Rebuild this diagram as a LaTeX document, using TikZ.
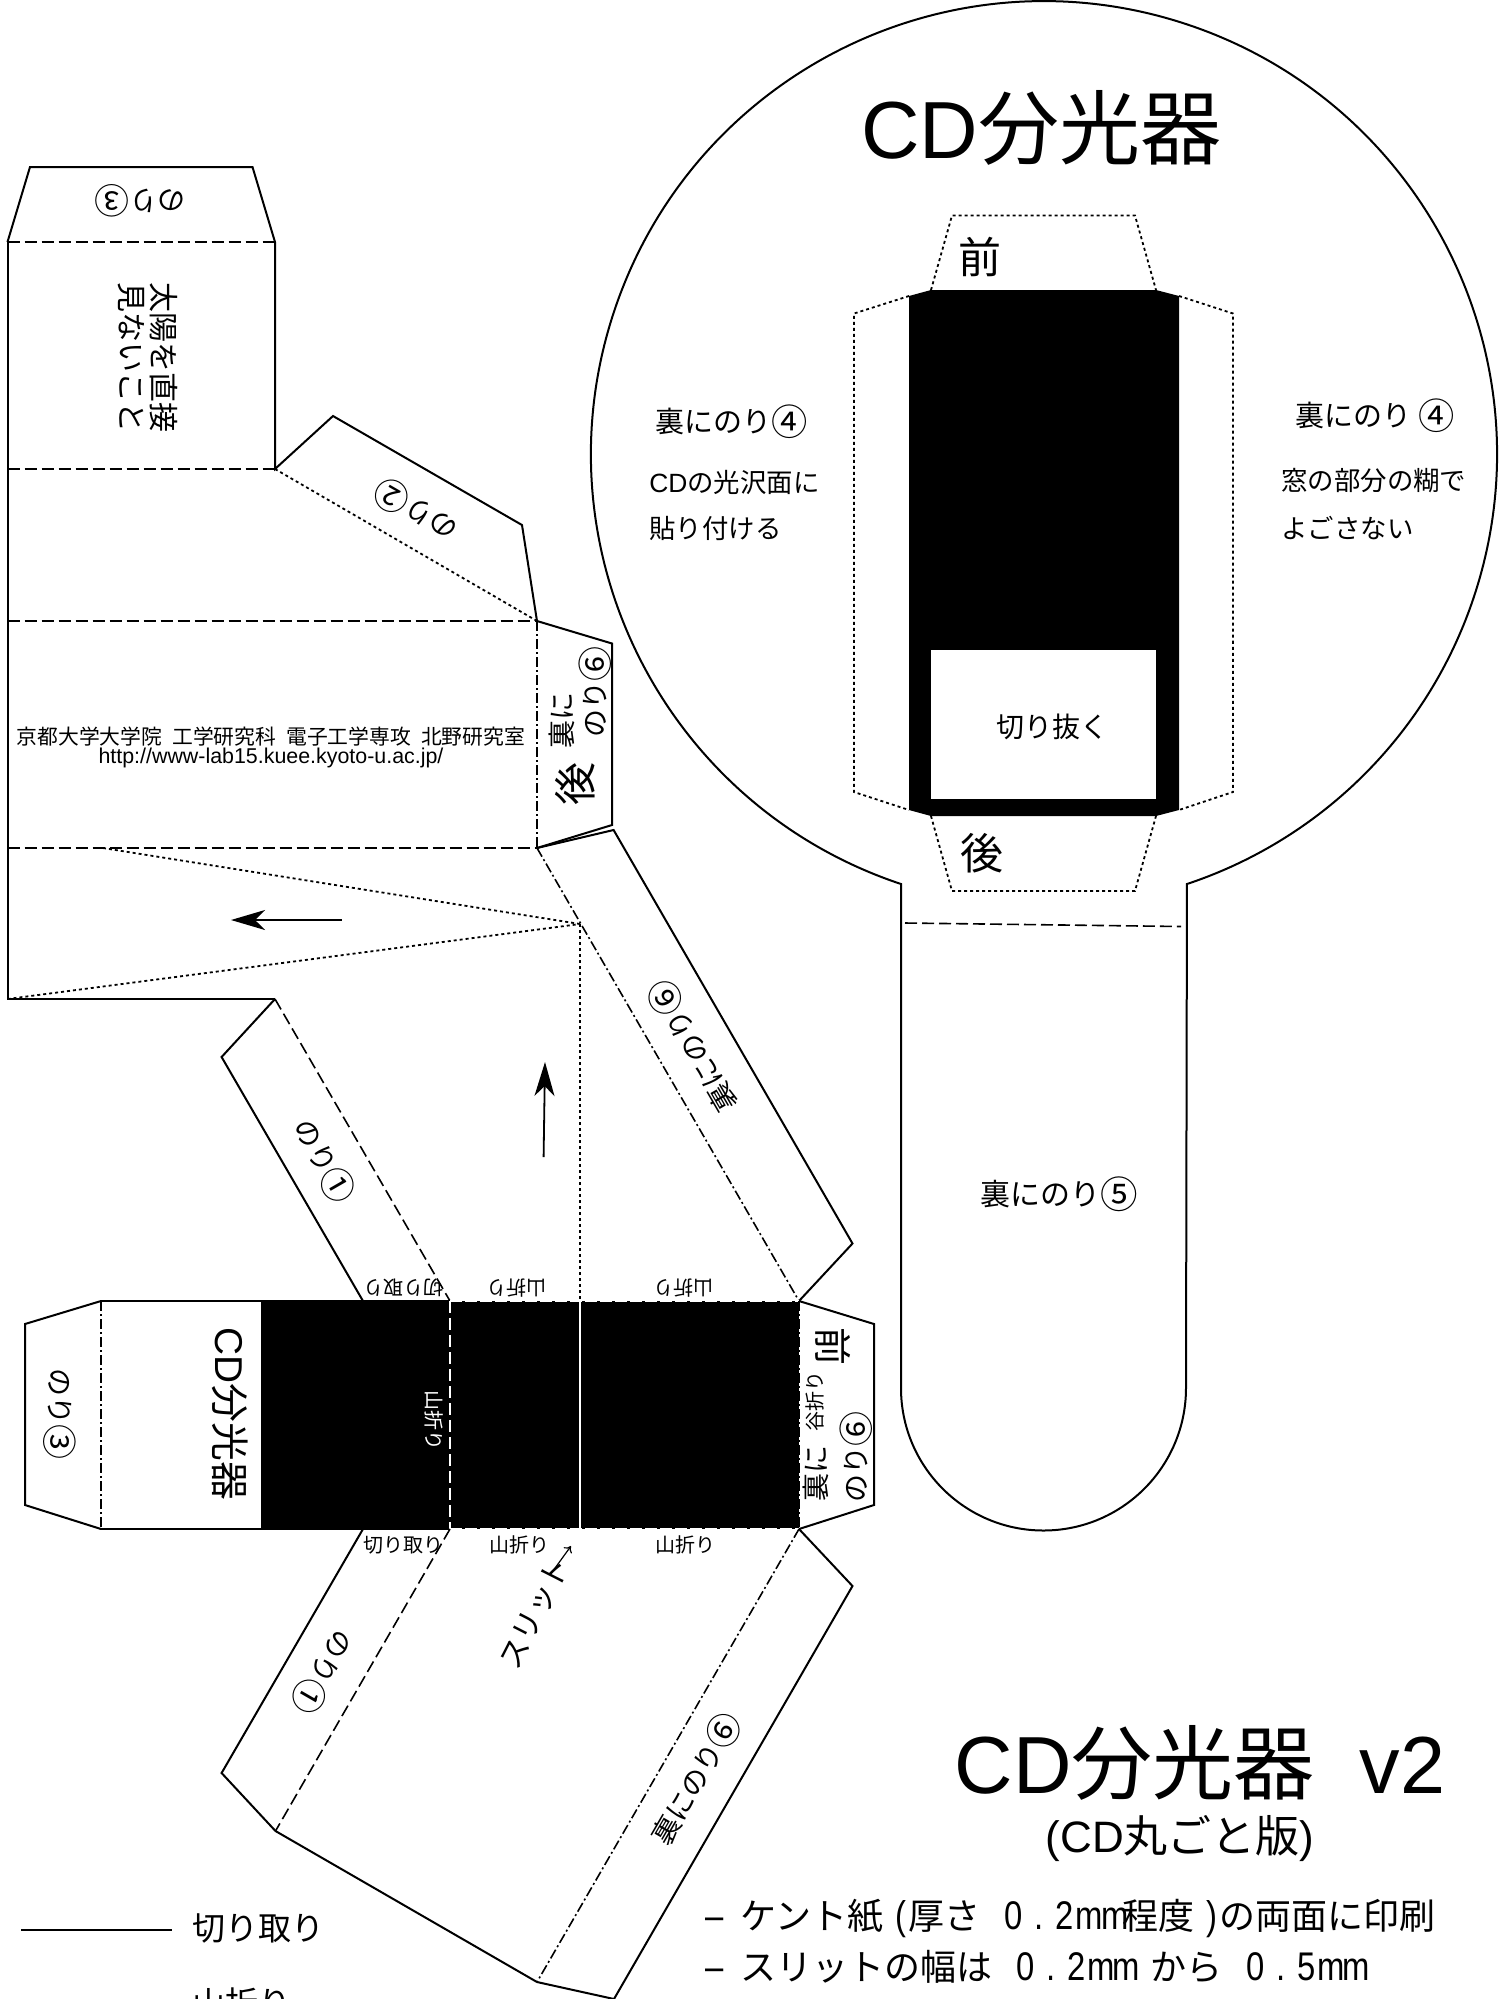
\documentclass[tikz,border=0pt]{standalone}
\usepackage{fontspec}
\usepackage{graphicx}
\usetikzlibrary{arrows.meta}
\setmainfont{Noto Sans CJK JP}
\newfontfamily\lat{Liberation Sans}
\newfontfamily\narrowlat[FakeStretch=0.82]{Liberation Sans}
\newcommand{\fs}[1]{\fontsize{#1}{#1}\selectfont}
\newcommand{\ci}[1]{\raisebox{-0.1em}{\scalebox{1.25}{#1}}}
\newcommand{\hw}[1]{\makebox[12.6pt]{\narrowlat\fs{20} #1}}
\tikzset{
    cutline/.style={draw, line width=1pt, line join=miter},
    ridge/.style={draw, line width=1.1pt, dash pattern=on 6pt off 2.5pt},
    thinridge/.style={draw, line width=0.8pt, dash pattern=on 6pt off 2.5pt},
    valley/.style={draw, line width=0.8pt, dash pattern=on 5pt off 1.5pt on 1pt off 1.5pt},
    hidden/.style={draw, line width=0.9pt, dash pattern=on 1.5pt off 1.5pt},
    lbl/.style={inner sep=0pt, font=\fs{14}},
    tiny/.style={inner sep=0pt, font=\fs{10}},
    big/.style={inner sep=0pt, font=\fs{21.5}}
}
\begin{document}
\begin{tikzpicture}[x=0.5pt, y=-0.5pt]
    \useasboundingbox (0,0) rectangle (1503,1999);
    % corners of the net
    \coordinate (a1) at (7.5,242);
    \coordinate (a2) at (275,242);
    \coordinate (b1) at (7.5,469);
    \coordinate (b2) at (275,469);
    \coordinate (c1) at (7.5,621);
    \coordinate (c2) at (537,621);
    \coordinate (d1) at (7.5,848);
    \coordinate (d2) at (537,848);
    \coordinate (d3) at (103,848);
    \coordinate (e1) at (7.5,999);
    \coordinate (e2) at (275,999);
    \coordinate (apex) at (580,924);
    \coordinate (f1) at (101,1301);
    \coordinate (f2) at (363,1301);
    \coordinate (f3) at (450,1301);
    \coordinate (f4) at (580,1301);
    \coordinate (f5) at (799,1301);
    \coordinate (g1) at (101,1529);
    \coordinate (g2) at (363,1529);
    \coordinate (g3) at (450,1529);
    \coordinate (g4) at (580,1529);
    \coordinate (g5) at (799,1529);
    \coordinate (h1) at (275.5,1831);
    \coordinate (h2) at (537,1982);

    % upper part of the net
    \draw[cutline] (a1) -- (30,167) -- (252.5,167) -- (a2) -- (b2) -- (333,416) -- (522,525) -- (c2) -- (612,643.5) -- (612,825) -- (d2);
    \draw[cutline] (a1) -- (e1) -- (e2);
    \draw[cutline] (d2) -- (613.6,830) -- (852.5,1243.5) -- (f5);
    \draw[cutline] (e2) -- (221.6,1057) -- (f2);
    \draw[ridge] (a1) -- (a2);
    \draw[ridge] (b1) -- (b2);
    \draw[ridge] (c1) -- (c2);
    \draw[ridge] (d1) -- (d2);
    \draw[hidden] (b2) -- (c2);
    \draw[hidden] (d3) -- (apex);
    \draw[hidden] (e1) -- (apex);
    \draw[hidden] (apex) -- (f4);
    \draw[valley] (c2) -- (d2);
    \draw[valley] (d2) -- (f5);
    \draw[thinridge] (e2) -- (f3);

    % body of the net
    \fill[black] (261,1301) rectangle (g5);
    \draw[cutline] (f1) -- (f3);
    \draw[cutline] (g1) -- (g3);
    \draw[cutline] (f1) -- (25,1324) -- (25,1505) -- (g1);
    \draw[cutline] (f5) -- (874,1324) -- (874,1505) -- (g5);
    \draw[valley] (f1) -- (g1);
    \draw[white, line width=0.9pt, dash pattern=on 6pt off 2.5pt] (f3) -- (g3);
    \draw[white, line width=1.2pt] (f4) -- (g4);
    \draw[white, line width=0.6pt, dash pattern=on 6pt off 1.5pt] (f3) -- (f5);
    \draw[white, line width=0.6pt, dash pattern=on 6pt off 1.5pt] (g3) -- (g5);
    \draw[valley] (f5) -- (g5);

    % lower part of the net
    \draw[cutline] (g2) -- (221.6,1773) -- (h1) -- (h2) -- (614,1999) -- (852.5,1586) -- (g5);
    \draw[thinridge] (g3) -- (h1);
    \draw[valley] (g5) -- (h2);

    % disc with handle
    \draw[cutline] (901,884) arc[start angle=108.4, end angle=431.6, radius=453] -- (1186,1388) arc[start angle=0, end angle=180, radius=142.5] -- cycle;
    \coordinate (neck1) at (905,923);
    \coordinate (neck2) at (1181,926.5);
    \draw[thinridge] (neck1) -- (neck2);

    % mask on the disc
    \fill[black] (909,296) -- (931,290) -- (1156,290) -- (1179,296) -- (1179,810) -- (1156,816) -- (931,816) -- (909,810) -- cycle;
    \fill[white] (931,650) rectangle (1156,799);
    \draw[hidden] (931,290) -- (952,215.5) -- (1135,215.5) -- (1156,290);
    \draw[hidden] (931,816) -- (952,891) -- (1135,891) -- (1156,816);
    \draw[hidden] (909,296) -- (854,313.5) -- (854,792) -- (909,810);
    \draw[hidden] (1179,296) -- (1233,313.5) -- (1233,792) -- (1179,810);

    % arrows
    \coordinate (arrL1) at (341.6,920);
    \coordinate (arrL2) at (231,920);
    \coordinate (arrU1) at (543.6,1157);
    \coordinate (arrU2) at (545,1062);
    \coordinate (arrS1) at (550,1575);
    \coordinate (arrS2) at (571,1546);
    \draw[-{Stealth[length=17pt, width=10pt, inset=5pt]}, line width=0.9pt] (arrL1) -- (arrL2);
    \draw[-{Stealth[length=17pt, width=10pt, inset=5pt]}, line width=0.9pt] (arrU1) -- (arrU2);
    \draw[-{To[length=3pt, width=5pt]}, line width=0.6pt] (arrS1) -- (arrS2);

    % labels on the disc
    \node[inner sep=0pt, font=\fs{40.5}, name=title] at (1041,128) {{\lat CD}分光器};
    \node[big, name=front] at (980,257) {前};
    \node[big, name=rear] at (982,853) {後};
    \node[lbl, font=\fs{14.5}, name=gluel] at (732,422) {裏にのり\ci{④}};
    \node[lbl, font=\fs{14.5}, name=gluer] at (1375,416) {裏にのり \ci{④}};
    \node[lbl, font=\fs{13.2}, anchor=west, name=notel1] at (649,482) {{\lat CD}の光沢面に};
    \node[lbl, font=\fs{13.2}, anchor=west, name=notel2] at (649,528) {貼り付ける};
    \node[lbl, font=\fs{13.2}, anchor=west, name=noter1] at (1281,481) {窓の部分の糊で};
    \node[lbl, font=\fs{13.2}, anchor=west, name=noter2] at (1281,528) {よごさない};
    \node[lbl, font=\fs{14}, name=window] at (1052,727) {切り抜く};
    \node[lbl, font=\fs{15}, name=gluehandle] at (1059,1194) {裏にのり\ci{⑤}};

    % labels on the upper net
    \node[lbl, rotate=180, name=glue3a] at (140,201) {のり\ci{③}};
    \node[lbl, font=\fs{15}, rotate=-90, name=warn1] at (164,357) {太陽を直接};
    \node[lbl, font=\fs{15}, rotate=-90, name=warn2] at (131,357) {見ないこと};
    \node[lbl, rotate=150, name=glue2] at (416,510) {のり\ci{②}};
    \node[lbl, rotate=90, name=back1] at (562,720) {裏に};
    \node[lbl, rotate=90, name=back2] at (595,692) {のり\ci{⑥}};
    \node[big, rotate=90, name=rear2] at (575,784) {後};
    \node[tiny, font=\fs{10.4}, name=lab] at (271,737) {京都大学大学院\hspace{5pt}工学研究科\hspace{5pt}電子工学専攻\hspace{5pt}北野研究室};
    \node[tiny, font=\fs{10.7}\lat, name=url] at (271,758) {http://www-lab15.kuee.kyoto-u.ac.jp/};
    \node[lbl, rotate=-60, name=glue1a] at (324,1161) {のり\ci{①}};
    \node[lbl, rotate=120, name=glue6a] at (693,1046) {裏にのり\ci{⑥}};

    % labels on the body
    \node[tiny, rotate=180, name=cuttop] at (403,1288) {切り取り};
    \node[tiny, rotate=180, name=foldtop1] at (516,1288) {山折り};
    \node[tiny, rotate=180, name=foldtop2] at (683,1288) {山折り};
    \node[tiny, name=cutbot] at (403,1545) {切り取り};
    \node[tiny, name=foldbot1] at (519,1545) {山折り};
    \node[tiny, name=foldbot2] at (685,1545) {山折り};
    \node[tiny, white, rotate=-90, name=foldmid] at (434,1420) {山折り};
    \node[inner sep=0pt, font=\fs{19.4}, rotate=-90, name=title2] at (230,1414) {{\lat CD}分光器};
    \node[lbl, rotate=-90, name=glue3b] at (60,1414) {のり\ci{③}};
    \node[inner sep=0pt, font=\fs{19}, rotate=-90, name=front2] at (833,1346) {前};
    \node[tiny, rotate=90, name=valleyfold] at (815,1401) {谷折り};
    \node[lbl, rotate=90, name=back3] at (816,1473) {裏に};
    \node[lbl, rotate=90, name=back4] at (856,1457) {のり\ci{⑥}};

    % labels on the lower net
    \node[lbl, rotate=-120, name=glue1b] at (323,1672) {のり\ci{①}};
    \node[lbl, rotate=60, name=glue6b] at (696,1779) {裏にのり\ci{⑥}};
    \node[lbl, font=\fs{15}, rotate=63, name=slit] at (535,1613) {スリット};

    % legend and notes
    \coordinate (leg1) at (21,1930);
    \coordinate (leg2) at (172,1930);
    \draw[cutline] (leg1) -- (leg2);
    \node[lbl, font=\fs{16.5}, anchor=west, name=legcut] at (192,1928) {切り取り};
    \node[lbl, font=\fs{16.5}, anchor=west, name=legfold] at (192,2003) {山折り};
    \node[inner sep=0pt, font=\fs{40.5}, name=head] at (1200,1763) {{\lat CD}分光器{\lat \ \ v2}};
    \node[inner sep=0pt, font=\fs{22}, name=sub] at (1180,1838) {{\lat (CD}丸ごと版{\lat )}};
    \node[lbl, font=\fs{18}, anchor=west, name=note1] at (697,1918) {\hw{–}\hspace{9pt}ケント紙\hw{(}厚さ\hspace{8pt}\hw{0}\hw{.}\hw{2}\hw{m}\hw{m}程度\hw{)}の両面に印刷};
    \node[lbl, font=\fs{18}, anchor=west, name=note2] at (697,1967) {\hw{–}\hspace{9pt}スリットの幅は\hspace{8pt}\hw{0}\hw{.}\hw{2}\hw{m}\hw{m}\hspace{8pt}から\hspace{8pt}\hw{0}\hw{.}\hw{5}\hw{m}\hw{m}};
\end{tikzpicture}
\end{document}
